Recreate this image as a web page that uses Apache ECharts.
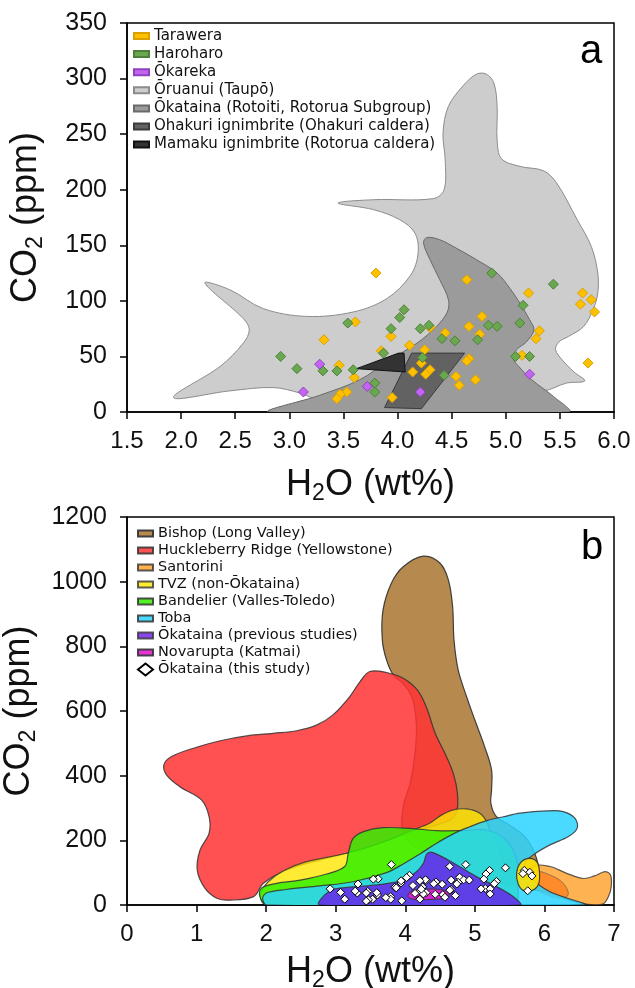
<!DOCTYPE html>
<html>
<head>
<meta charset="utf-8">
<script src="https://cdn.jsdelivr.net/npm/echarts@6/dist/echarts.min.js"></script>
<style>
html,body{margin:0;padding:0;background:#fff;}
#chart{width:635px;height:988px;}
</style>
</head>
<body>
<div id="chart"></div>
<script>
// ---------- Panel a: melt inclusion points (H2O wt%, CO2 ppm) ----------
const tarawera = [[3.80,125],[4.64,119],[5.21,107],[5.71,107],[5.79,101],[5.69,97],[5.82,90],[4.78,86],[3.61,81],
  [4.66,77],[4.30,76],[3.94,68],[3.32,65],[4.44,71],[4.76,70],[5.31,73],[5.28,66],[4.11,60],[3.85,55],[4.25,56],
  [5.15,51],[4.66,48],[4.64,46],[4.22,44],[3.46,42],[5.76,44],[4.14,36],[4.30,38],[4.26,34],[3.60,31],[4.54,32],
  [4.72,29],[4.57,24],[3.53,18],[3.47,16],[3.44,12],[3.95,13]];
const haroharo = [[4.87,125],[5.44,115],[5.16,96],[4.06,92],[4.02,85],[3.54,80],[5.13,80],[4.84,78],[4.92,77],
  [4.29,78],[4.21,75],[3.94,75],[4.41,66],[4.53,64],[4.74,65],[3.87,53],[4.23,49],[5.09,50],[5.22,50],[2.92,50],
  [3.07,39],[3.31,37],[3.44,37],[3.59,38],[4.43,33],[3.79,26],[3.79,18]];
const okareka = [[3.28,43],[3.72,23],[3.13,18],[4.21,18],[5.22,34]];

// ---------- Panel a: fields ----------
const oruanuiField = [[1.93,13],[2.36,41],[2.575,62],[2.63,74],[2.575,84],[2.22,116],[2.45,110],[2.76,93],[3.16,86],
  [3.59,90],[3.90,102],[4.12,123],[4.19,143],[4.16,161],[4.02,173],[3.78,182],[3.45,188],[3.78,191],[4.33,192],
  [4.43,200],[4.44,227],[4.42,251],[4.47,275],[4.61,294],[4.73,304],[4.82,304],[4.89,296],[4.92,275],[4.92,245],
  [4.96,228],[5.13,221],[5.35,217],[5.47,206],[5.66,173],[5.79,149],[5.85,125],[5.85,107],[5.81,93],[5.72,77],
  [5.58,68],[5.49,63],[5.46,56],[5.52,47],[5.63,36],[5.73,28],[5.56,26],[5.35,19],[4.52,14],[3.28,11],[3.10,17],
  [2.85,22],[2.45,19]];
const okatainaField = [[2.82,0],[3.28,15],[3.65,29],[3.93,47],[4.18,62],[4.36,77],[4.46,90],[4.47,101],[4.39,119],
  [4.30,137],[4.24,152],[4.27,157],[4.39,155],[4.55,147],[4.73,137],[4.92,125],[5.04,111],[5.13,98],[5.22,83],
  [5.26,74],[5.19,63],[5.10,56],[5.07,48],[5.12,41],[5.24,29],[5.44,14],[5.58,0]];
const ohakuriField = [[3.88,4],[4.22,3],[4.62,53],[4.13,53]];
const mamakuField = [[3.62,39],[4.01,53],[4.06,53],[4.07,36]];

// ---------- Panel b: fields from other systems ----------
const bishopField = [[4.26,1079],[4.50,1057],[4.62,1005],[4.68,923],[4.70,820],[4.76,727],[4.88,645],[5.00,572],
  [5.14,490],[5.24,418],[5.24,356],[5.23,314],[5.31,273],[5.50,247],[5.72,211],[5.86,160],[5.91,108],[5.81,67],
  [5.41,67],[4.69,119],[4.21,170],[3.97,222],[3.97,304],[4.07,376],[4.14,469],[4.16,552],[4.11,634],[3.99,680],
  [3.83,711],[3.73,758],[3.67,820],[3.68,912],[3.80,995],[3.97,1046]];
const huckleberryField = [[3.49,722],[3.73,719],[3.97,701],[4.18,663],[4.31,608],[4.43,531],[4.57,469],[4.69,407],
  [4.75,345],[4.74,289],[4.64,263],[4.35,242],[4.02,222],[3.49,180],[3.16,160],[2.77,139],[2.29,108],[1.96,67],
  [1.82,26],[1.48,15],[1.29,21],[1.12,52],[1.01,108],[1.05,170],[1.18,222],[1.18,273],[1.07,325],[0.76,366],
  [0.57,402],[0.53,433],[0.64,459],[1.00,488],[1.34,508],[1.72,523],[2.10,531],[2.44,539],[2.73,557],[2.96,588],
  [3.20,644],[3.35,691]];
const santoriniField = [[5.84,119],[6.08,119],[6.32,98],[6.56,82],[6.72,90],[6.87,103],[6.95,93],[6.96,57],[6.92,26],
  [6.84,3],[6.60,3],[6.36,15],[6.13,34],[5.89,46],[5.74,52]];
const santoriniInner = [[5.86,103],[6.13,88],[6.29,62],[6.34,31],[6.22,21],[5.93,41],[5.84,57]];
const tvzField = [[1.93,15],[1.93,41],[2.03,72],[2.25,106],[2.58,134],[3.16,160],[3.64,191],[4.11,232],[4.35,253],
  [4.52,278],[4.69,294],[4.88,297],[5.07,284],[5.17,258],[5.22,227],[5.36,170],[5.41,98],[5.26,36],[5.17,0],[2.01,0]];
const tvzBlob = [[5.60,98],[5.65,129],[5.77,144],[5.89,134],[5.93,98],[5.91,62],[5.81,44],[5.69,46],[5.62,67]];
const bandelierField = [[1.93,52],[2.15,67],[2.49,77],[2.87,96],[3.13,119],[3.18,160],[3.25,206],[3.40,227],[3.68,239],
  [4.07,237],[4.45,230],[4.83,230],[5.17,232],[5.45,201],[5.60,139],[5.62,77],[5.55,0],[2.01,0],[1.91,26]];
const tobaField = [[2.01,0],[1.95,21],[2.01,38],[2.29,48],[2.77,59],[3.25,72],[3.73,100],[3.97,127],[4.21,158],
  [4.45,191],[4.69,220],[4.93,242],[5.17,261],[5.41,273],[5.65,284],[6.03,291],[6.27,289],[6.44,268],[6.47,237],
  [6.34,211],[6.08,186],[5.84,155],[5.72,129],[5.79,88],[6.08,41],[6.56,0]];
const okatainaPrevField = [[2.77,0],[2.92,44],[3.20,55],[3.59,62],[3.97,77],[4.16,103],[4.26,129],[4.31,158],[4.40,162],
  [4.74,124],[5.02,88],[5.31,57],[5.55,26],[5.65,0]];
const novaruptaField = [[4.04,26],[4.07,41],[4.21,48],[4.50,48],[4.62,38],[4.62,24],[4.45,18],[4.11,18]];

const thisStudy = tarawera.concat(haroharo, okareka);

const xTicksA = {min:1.5, max:6.0, step:0.5};
const yTicksA = {min:0, max:350, step:50};
const xTicksB = {min:0, max:7, step:1};
const yTicksB = {min:0, max:1200, step:200};

const NUM_FONT = 'Liberation Sans, Arial, sans-serif';
const LEG_FONT = 'DejaVu Sans, Verdana, sans-serif';

function field(name, pts, fill, stroke, opacity, grid, z, smooth, lw) {
  return {
    type: 'custom', name: name, xAxisIndex: grid, yAxisIndex: grid, z: z, clip: true, silent: true,
    itemStyle: {color: fill, borderColor: stroke, borderWidth: 1, opacity: opacity},
    data: pts,
    renderItem: function (params, api) {
      if (params.dataIndex !== 0) return null;
      const points = pts.map(function (p) { return api.coord(p); });
      return {type: 'polygon', shape: {points: points, smooth: smooth},
        style: {fill: fill, stroke: stroke, lineWidth: lw, opacity: opacity}};
    }
  };
}

function pointSeries(name, data, fill, border, grid, size) {
  return {type: 'scatter', name: name, xAxisIndex: grid, yAxisIndex: grid, z: 20, data: data,
    symbol: 'diamond', symbolSize: size, silent: true,
    itemStyle: {color: fill, borderColor: border, borderWidth: 1, opacity: 1}};
}

function xAxis(grid, t, fmt, gap) {
  return {type: 'value', gridIndex: grid, min: t.min, max: t.max, interval: t.step,
    axisLine: {onZero: false, lineStyle: {color: '#000', width: 1.5}},
    axisTick: {length: 7, lineStyle: {color: '#000', width: 1.5}},
    splitLine: {show: false},
    axisLabel: {fontFamily: NUM_FONT, fontSize: 24, color: '#111', margin: 17, formatter: fmt,
      showMinLabel: true, showMaxLabel: true, hideOverlap: false},
    name: 'H{s|2}O (wt%)', nameLocation: 'middle', nameGap: gap,
    nameTextStyle: {fontFamily: NUM_FONT, fontSize: 36, color: '#111', lineHeight: 40,
      rich: {s: {fontFamily: NUM_FONT, fontSize: 23, lineHeight: 23, verticalAlign: 'bottom', color: '#111'}}}
  };
}
function yAxis(grid, t) {
  return {type: 'value', gridIndex: grid, min: t.min, max: t.max, interval: t.step,
    axisLine: {onZero: false, lineStyle: {color: '#000', width: 1.5}},
    axisTick: {length: 7, lineStyle: {color: '#000', width: 1.5}},
    splitLine: {show: false},
    axisLabel: {fontFamily: NUM_FONT, fontSize: 25, color: '#111', margin: 20,
      formatter: function (v) { return String(v); }, showMinLabel: true, showMaxLabel: true, hideOverlap: false},
    name: 'CO{s|2} (ppm)', nameLocation: 'middle', nameGap: 80,
    nameTextStyle: {fontFamily: NUM_FONT, fontSize: 36, color: '#111', lineHeight: 42,
      rich: {s: {fontFamily: NUM_FONT, fontSize: 23, lineHeight: 23, verticalAlign: 'bottom', color: '#111'}}}
  };
}

const rectIcon = 'path://M0,0 L15,0 L15,6 L0,6 Z';

const option = {
  backgroundColor: '#fff',
  animation: false,
  grid: [
    {left: 127, top: 23, width: 487, height: 389, show: true, borderColor: '#000', borderWidth: 1.5,
      backgroundColor: 'transparent', containLabel: false, outerBoundsMode: 'none'},
    {left: 127, top: 517, width: 487, height: 388, show: true, borderColor: '#000', borderWidth: 1.5,
      backgroundColor: 'transparent', containLabel: false, outerBoundsMode: 'none'}
  ],
  xAxis: [xAxis(0, xTicksA, function (v) { return v.toFixed(1); }, 53), xAxis(1, xTicksB, function (v) { return String(v); }, 47)],
  yAxis: [yAxis(0, yTicksA), yAxis(1, yTicksB)],
  legend: [
    {orient: 'vertical', left: 133, top: 28, itemWidth: 15, itemHeight: 6, itemGap: 2.1, icon: 'rect',
      selectedMode: false, padding: 0,
      textStyle: {fontFamily: LEG_FONT, fontSize: 15, lineHeight: 16, color: '#111'},
      data: ['Tarawera', 'Haroharo', 'Ōkareka', 'Ōruanui (Taupō)', 'Ōkataina (Rotoiti, Rotorua Subgroup)',
        'Ohakuri ignimbrite (Ohakuri caldera)', 'Mamaku ignimbrite (Rotorua caldera)']},
    {orient: 'vertical', left: 137, top: 526, itemWidth: 15, itemHeight: 12, itemGap: 2,
      selectedMode: false, padding: 0,
      textStyle: {fontFamily: LEG_FONT, fontSize: 14.5, lineHeight: 15, color: '#111'},
      data: [
        {name: 'Bishop (Long Valley)', icon: rectIcon},
        {name: 'Huckleberry Ridge (Yellowstone)', icon: rectIcon},
        {name: 'Santorini', icon: rectIcon},
        {name: 'TVZ (non-Ōkataina)', icon: rectIcon},
        {name: 'Bandelier (Valles-Toledo)', icon: rectIcon},
        {name: 'Toba', icon: rectIcon},
        {name: 'Ōkataina (previous studies)', icon: rectIcon},
        {name: 'Novarupta (Katmai)', icon: rectIcon},
        {name: 'Ōkataina (this study)', icon: 'diamond'}
      ]}
  ],
  graphic: [
    {type: 'text', x: 591, y: 52, style: {text: 'a', font: '40px Liberation Sans', fill: '#000', textAlign: 'center', textVerticalAlign: 'middle'}, z: 100},
    {type: 'text', x: 592, y: 548, style: {text: 'b', font: '40px Liberation Sans', fill: '#000', textAlign: 'center', textVerticalAlign: 'middle'}, z: 100}
  ],
  series: [
    // panel a
    field('Ōruanui (Taupō)', oruanuiField, '#cdcdcd', '#8c8c8c', 1, 0, 1, 0.35, 1),
    field('Ōkataina (Rotoiti, Rotorua Subgroup)', okatainaField, '#9b9b9b', '#6a6a6a', 1, 0, 2, 0.35, 1),
    field('Ohakuri ignimbrite (Ohakuri caldera)', ohakuriField, '#626262', '#3c3c3c', 1, 0, 3, 0, 1),
    field('Mamaku ignimbrite (Rotorua caldera)', mamakuField, '#333333', '#111111', 1, 0, 4, 0, 1),
    pointSeries('Tarawera', tarawera, '#ffc000', '#d9a000', 0, 10),
    pointSeries('Haroharo', haroharo, '#6aa84f', '#4f7f3a', 0, 10),
    pointSeries('Ōkareka', okareka, '#c266f2', '#9040c0', 0, 10),
    // panel b
    field('Bishop (Long Valley)', bishopField, '#b08040', '#333', 0.92, 1, 1, 0.35, 1.2),
    field('Huckleberry Ridge (Yellowstone)', huckleberryField, '#ff3333', '#333', 0.85, 1, 2, 0.35, 1.2),
    field('Santorini', santoriniField, '#ff9f26', '#333', 0.8, 1, 3, 0.35, 1.2),
    field('Santorini', santoriniInner, '#ff7010', '#555', 0.6, 1, 3, 0.35, 1),
    field('TVZ (non-Ōkataina)', tvzField, '#ffe600', '#333', 0.8, 1, 4, 0.35, 1.2),
    field('Bandelier (Valles-Toledo)', bandelierField, '#33ee00', '#333', 0.85, 1, 5, 0.35, 1.2),
    field('Toba', tobaField, '#2ad4ff', '#333', 0.85, 1, 6, 0.35, 1.2),
    field('Ōkataina (previous studies)', okatainaPrevField, '#6a1ae8', '#333', 0.8, 1, 7, 0.35, 1.2),
    field('Novarupta (Katmai)', novaruptaField, '#e020d0', '#333', 0.9, 1, 8, 0.35, 1),
    field('TVZ (non-Ōkataina)', tvzBlob, '#ffe000', '#333', 0.9, 1, 9, 0.4, 1.2),
    pointSeries('Ōkataina (this study)', thisStudy, '#ffffff', '#000000', 1, 8)
  ]
};

const chart = echarts.init(document.getElementById('chart'), null, {renderer: 'canvas'});
chart.setOption(option);
</script>
</body>
</html>
